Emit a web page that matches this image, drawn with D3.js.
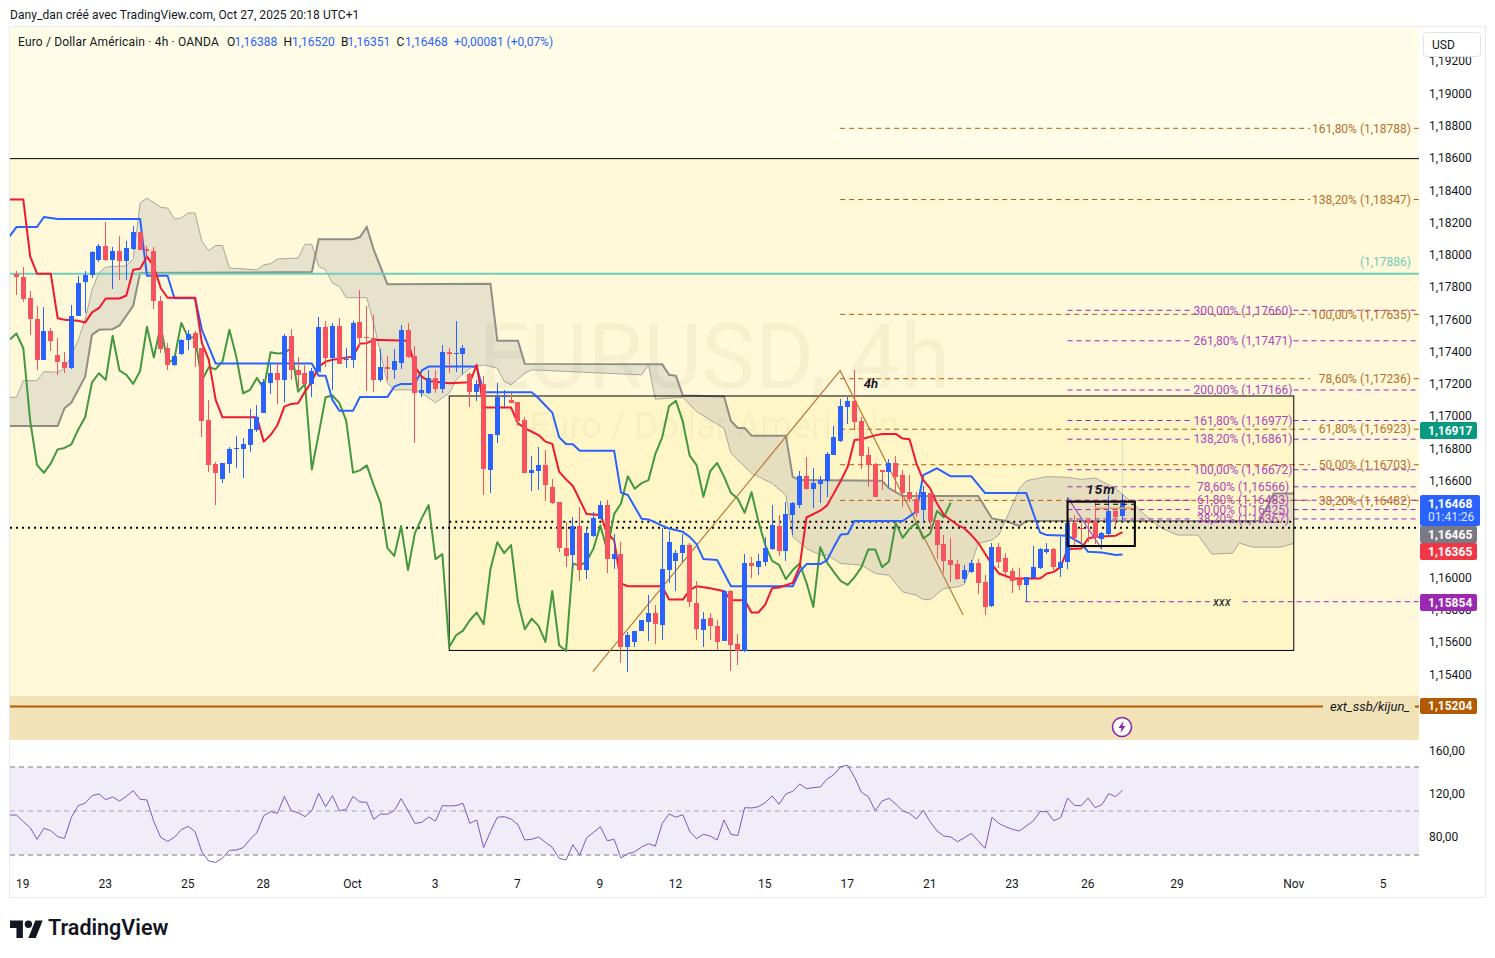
<!DOCTYPE html>
<html><head><meta charset="utf-8">
<script src="https://d3js.org/d3.v7.min.js"></script>
<style>html,body{margin:0;padding:0;background:#fff}svg{display:block}text{font-family:Roboto,sans-serif}</style>
</head><body><svg id="c" width="1495" height="958"></svg>
<script>
const firstBar=-1;
const opens=[1.17887,1.17866,1.17735,1.17605,1.17355,1.17531,1.17384,1.17342,1.17301,1.17622,1.17833,1.17880,1.17973,1.18060,1.17969,1.18029,1.17963,1.18042,1.18143,1.18042,1.18029,1.17719,1.17427,1.17324,1.17392,1.17473,1.17520,1.17425,1.16978,1.16707,1.16612,1.16709,1.16803,1.16803,1.16827,1.16918,1.17026,1.17212,1.17270,1.17231,1.17502,1.17287,1.17270,1.17206,1.17280,1.17558,1.17367,1.17562,1.17355,1.17355,1.17586,1.17495,1.17489,1.17225,1.17307,1.17293,1.17336,1.17539,1.17375,1.17146,1.17146,1.17239,1.17175,1.17400,1.17392,1.17392,1.17266,1.17156,1.17204,1.16670,1.16890,1.17121,1.17103,1.17092,1.16978,1.16654,1.16666,1.16699,1.16565,1.16470,1.16186,1.16143,1.16323,1.16050,1.16261,1.16364,1.16453,1.16118,1.16149,1.15574,1.15605,1.15673,1.15729,1.15787,1.15708,1.16052,1.16107,1.16155,1.16205,1.15849,1.15681,1.15754,1.15702,1.15611,1.15919,1.15590,1.15549,1.16093,1.16070,1.16101,1.16180,1.16323,1.16170,1.16393,1.16455,1.16631,1.16554,1.16583,1.16604,1.16765,1.16852,1.17063,1.17101,1.16972,1.16761,1.16705,1.16668,1.16660,1.16712,1.16637,1.16534,1.16488,1.16422,1.16525,1.16360,1.16211,1.16112,1.16087,1.15994,1.16037,1.16091,1.15975,1.15826,1.16192,1.16124,1.16045,1.15992,1.15958,1.16000,1.16062,1.16163,1.16178,1.16066,1.16101,1.16341,1.16312,1.16360,1.16347,1.16244,1.16273,1.16416,1.16388];
const highs=[1.17901,1.17928,1.17777,1.17688,1.17680,1.17549,1.17487,1.17404,1.17692,1.17874,1.17901,1.18029,1.18071,1.18205,1.18052,1.18122,1.18091,1.18180,1.18143,1.18056,1.18050,1.17750,1.17460,1.17384,1.17481,1.17539,1.17529,1.17425,1.17105,1.16722,1.16715,1.16815,1.16881,1.16867,1.17047,1.17073,1.17233,1.17328,1.17332,1.17514,1.17543,1.17373,1.17322,1.17301,1.17618,1.17591,1.17584,1.17611,1.17425,1.17591,1.17787,1.17688,1.17632,1.17419,1.17378,1.17419,1.17568,1.17580,1.17440,1.17245,1.17287,1.17291,1.17444,1.17425,1.17595,1.17446,1.17280,1.17229,1.17250,1.16894,1.17208,1.17167,1.17150,1.17092,1.16997,1.16757,1.16811,1.16794,1.16612,1.16470,1.16349,1.16376,1.16443,1.16314,1.16407,1.16480,1.16484,1.16273,1.16225,1.15667,1.15675,1.15739,1.15894,1.15832,1.16308,1.16294,1.16174,1.16273,1.16215,1.15981,1.15791,1.15781,1.15743,1.15925,1.15925,1.15652,1.16149,1.16132,1.16147,1.16256,1.16453,1.16391,1.16474,1.16474,1.16666,1.16749,1.16681,1.16633,1.16784,1.16943,1.17109,1.17125,1.17287,1.16997,1.16811,1.16712,1.16670,1.16738,1.16757,1.16670,1.16639,1.16536,1.16571,1.16530,1.16360,1.16267,1.16246,1.16112,1.16081,1.16112,1.16116,1.16018,1.16219,1.16219,1.16153,1.16060,1.16060,1.16008,1.16198,1.16184,1.16219,1.16184,1.16256,1.16501,1.16391,1.16339,1.16364,1.16480,1.16287,1.16515,1.16426,1.16520];
const lows=[1.17756,1.17709,1.17508,1.17291,1.17353,1.17409,1.17260,1.17270,1.17295,1.17622,1.17642,1.17860,1.17957,1.17967,1.17791,1.17845,1.17845,1.18036,1.18031,1.17973,1.17667,1.17398,1.17287,1.17315,1.17384,1.17411,1.17307,1.16877,1.16660,1.16453,1.16587,1.16649,1.16680,1.16618,1.16784,1.16908,1.17022,1.17142,1.17080,1.17094,1.17229,1.17177,1.17198,1.17125,1.17280,1.17311,1.17167,1.17328,1.17301,1.17301,1.17435,1.17162,1.17156,1.17218,1.17229,1.17233,1.17297,1.17363,1.16836,1.17125,1.17142,1.17146,1.17146,1.17274,1.17280,1.17266,1.17063,1.17101,1.16515,1.16530,1.16840,1.17063,1.17084,1.16945,1.16654,1.16542,1.16546,1.16480,1.16459,1.16163,1.16070,1.16066,1.15983,1.15992,1.16256,1.16364,1.16033,1.16054,1.15474,1.15418,1.15574,1.15673,1.15611,1.15594,1.15615,1.15971,1.15921,1.16101,1.15822,1.15615,1.15574,1.15619,1.15553,1.15611,1.15425,1.15460,1.15543,1.16004,1.16018,1.16074,1.16174,1.16136,1.16107,1.16267,1.16432,1.16546,1.16432,1.16463,1.16505,1.16763,1.16845,1.16956,1.16919,1.16674,1.16567,1.16505,1.16546,1.16563,1.16530,1.16443,1.16474,1.16381,1.16350,1.16298,1.16116,1.16029,1.15977,1.15987,1.15971,1.16029,1.15901,1.15770,1.15822,1.16060,1.16018,1.15909,1.15925,1.15853,1.15998,1.16056,1.16149,1.16050,1.16008,1.16054,1.16194,1.16194,1.16225,1.16211,1.16184,1.16261,1.16318,1.16351];
const closes=[1.17864,1.17733,1.17605,1.17353,1.17531,1.17467,1.17342,1.17305,1.17626,1.17829,1.17880,1.18021,1.18060,1.17973,1.18029,1.17963,1.18046,1.18145,1.18036,1.18025,1.17715,1.17423,1.17324,1.17375,1.17477,1.17516,1.17425,1.16976,1.16701,1.16653,1.16711,1.16798,1.16807,1.16829,1.16922,1.16997,1.17214,1.17270,1.17229,1.17502,1.17287,1.17260,1.17204,1.17284,1.17558,1.17367,1.17564,1.17330,1.17361,1.17582,1.17491,1.17491,1.17225,1.17307,1.17295,1.17344,1.17539,1.17373,1.17146,1.17167,1.17241,1.17175,1.17400,1.17392,1.17396,1.17425,1.17156,1.17204,1.16674,1.16894,1.17121,1.17132,1.17086,1.16976,1.16654,1.16668,1.16699,1.16577,1.16467,1.16186,1.16138,1.16323,1.16050,1.16279,1.16372,1.16453,1.16118,1.16149,1.15574,1.15646,1.15675,1.15739,1.15787,1.15714,1.16056,1.16223,1.16155,1.16205,1.15853,1.15683,1.15749,1.15704,1.15605,1.15921,1.15584,1.15549,1.16091,1.16076,1.16105,1.16184,1.16327,1.16170,1.16397,1.16463,1.16631,1.16554,1.16589,1.16608,1.16770,1.16873,1.17067,1.17099,1.16970,1.16759,1.16701,1.16505,1.16664,1.16714,1.16629,1.16529,1.16492,1.16405,1.16532,1.16352,1.16205,1.16107,1.16083,1.15994,1.16050,1.16091,1.15971,1.15822,1.16192,1.16097,1.16037,1.15981,1.15958,1.16006,1.16068,1.16178,1.16178,1.16068,1.16103,1.16341,1.16250,1.16306,1.16343,1.16246,1.16277,1.16416,1.16378,1.16468];

const tenkanBars=[-2,0,1,2,4,5,6,8,9,10,11,12,14,15,16,17,18,19,20,21,25,26,27,28,29,34,35,36,37,38,39,40,41,42,43,44,45,48,49,50,51,56,57,58,59,62,65,66,67,71,72,73,75,76,77,78,79,80,82,84,85,86,87,88,93,94,96,97,98,100,102,103,105,106,107,108,109,110,112,113,114,116,117,119,120,121,122,124,125,127,128,129,130,131,132,133,134,136,137,138,139,141,142,144,148,149,150,151,152,154,155,156,159,160];
const tenkanPrices=[1.18346,1.18346,1.17994,1.17887,1.17887,1.17611,1.17601,1.17595,1.17584,1.17647,1.17673,1.17733,1.17733,1.17752,1.17911,1.17918,1.17994,1.17932,1.17798,1.17738,1.17738,1.17456,1.17353,1.17105,1.16997,1.16997,1.16846,1.16887,1.16949,1.17063,1.17080,1.17084,1.17156,1.17218,1.17311,1.17342,1.17353,1.17373,1.17454,1.17456,1.17477,1.17471,1.17311,1.17249,1.17222,1.17208,1.17214,1.17322,1.17057,1.17057,1.16960,1.16929,1.16887,1.16846,1.16832,1.16660,1.16612,1.16571,1.16397,1.16391,1.16277,1.16236,1.15967,1.15950,1.15950,1.15867,1.15867,1.15925,1.15950,1.15938,1.15919,1.15863,1.15863,1.15787,1.15787,1.15836,1.15938,1.15942,1.15971,1.16070,1.16376,1.16418,1.16451,1.16604,1.16691,1.16856,1.16861,1.16885,1.16894,1.16894,1.16865,1.16861,1.16712,1.16608,1.16556,1.16463,1.16391,1.16329,1.16308,1.16267,1.16219,1.16085,1.16029,1.15998,1.15998,1.16029,1.16039,1.16070,1.16180,1.16184,1.16246,1.16256,1.16263,1.16285];
const kijunBars=[-2,-1,2,3,5,17,18,21,22,25,26,28,42,43,44,45,46,48,49,53,54,55,57,58,59,66,67,74,75,76,77,78,79,80,81,86,87,88,90,91,93,94,96,97,98,99,101,103,112,113,114,116,117,118,119,120,121,128,130,131,133,135,138,140,146,148,149,152,154,155,157,159,160];
const kijunPrices=[1.18118,1.18176,1.18176,1.18238,1.18226,1.18226,1.17874,1.17874,1.17735,1.17735,1.17539,1.17330,1.17330,1.17255,1.17255,1.17105,1.17038,1.17038,1.17123,1.17123,1.17187,1.17204,1.17204,1.17287,1.17311,1.17312,1.17152,1.17152,1.17115,1.17070,1.17026,1.16873,1.16832,1.16830,1.16790,1.16790,1.16530,1.16515,1.16368,1.16364,1.16325,1.16308,1.16287,1.16256,1.16211,1.16118,1.16112,1.15950,1.15950,1.16039,1.16087,1.16087,1.16112,1.16194,1.16271,1.16273,1.16354,1.16354,1.16412,1.16639,1.16681,1.16631,1.16631,1.16527,1.16527,1.16283,1.16267,1.16263,1.16215,1.16163,1.16159,1.16143,1.16147];
const spanABars=[-2,-1,0,2,3,5,6,7,8,9,10,11,12,15,16,17,18,20,21,22,23,24,25,26,27,28,29,30,34,35,36,37,40,41,42,43,44,45,46,47,50,51,52,53,54,57,58,60,62,63,65,67,69,70,71,73,74,90,91,92,96,98,102,103,106,109,111,112,114,116,117,119,122,124,126,128,130,131,132,134,136,137,139,141,142,143,145,146,149,152,154,156,159,161,163,165,166,168,171,173,176,177,179,183,185];
const spanAPrices=[1.17121,1.17121,1.17224,1.17224,1.17280,1.17276,1.17301,1.17380,1.17477,1.17601,1.17787,1.17891,1.17928,1.17936,1.17978,1.18325,1.18356,1.18298,1.18294,1.18226,1.18232,1.18263,1.18263,1.18087,1.18031,1.18062,1.18062,1.17922,1.17911,1.17942,1.17949,1.17978,1.17984,1.18069,1.18069,1.17932,1.17911,1.17829,1.17808,1.17738,1.17738,1.17580,1.17394,1.17208,1.17167,1.17167,1.17146,1.17088,1.17146,1.17229,1.17301,1.17322,1.17301,1.17219,1.17198,1.17270,1.17291,1.17260,1.17322,1.17109,1.17121,1.17032,1.16929,1.16774,1.16650,1.16587,1.16515,1.16256,1.16184,1.16143,1.16143,1.16091,1.16081,1.16029,1.16018,1.15915,1.15894,1.15867,1.15867,1.15936,1.15946,1.15963,1.16215,1.16236,1.16267,1.16360,1.16556,1.16604,1.16629,1.16625,1.16612,1.16621,1.16556,1.16484,1.16403,1.16329,1.16304,1.16267,1.16267,1.16149,1.16155,1.16217,1.16192,1.16192,1.16217];
const spanBBars=[-2,5,6,7,9,10,11,13,14,16,17,42,43,48,49,50,51,53,68,69,72,73,93,94,95,96,102,103,104,105,106,111,112,113,125,126,128,139,141,143,145,146,180,182,185];
const spanBPrices=[1.16943,1.16943,1.17053,1.17088,1.17249,1.17508,1.17539,1.17543,1.17566,1.17688,1.17891,1.17897,1.18100,1.18100,1.18114,1.18176,1.18036,1.17822,1.17825,1.17471,1.17471,1.17328,1.17325,1.17260,1.17254,1.17132,1.17126,1.16974,1.16931,1.16931,1.16883,1.16883,1.16628,1.16608,1.16604,1.16558,1.16509,1.16509,1.16370,1.16354,1.16323,1.16354,1.16354,1.16525,1.16525];
const chikouFirstBar=-2;
const chikou=[1.17477,1.17516,1.17425,1.16976,1.16701,1.16653,1.16711,1.16798,1.16807,1.16829,1.16922,1.16997,1.17214,1.17270,1.17229,1.17502,1.17287,1.17260,1.17204,1.17284,1.17558,1.17367,1.17564,1.17330,1.17361,1.17582,1.17491,1.17491,1.17225,1.17307,1.17295,1.17344,1.17539,1.17373,1.17146,1.17167,1.17241,1.17175,1.17400,1.17392,1.17396,1.17425,1.17156,1.17204,1.16674,1.16894,1.17121,1.17132,1.17086,1.16976,1.16654,1.16668,1.16699,1.16577,1.16467,1.16186,1.16138,1.16323,1.16050,1.16279,1.16372,1.16453,1.16118,1.16149,1.15574,1.15646,1.15675,1.15739,1.15787,1.15714,1.16056,1.16223,1.16155,1.16205,1.15853,1.15683,1.15749,1.15704,1.15605,1.15921,1.15584,1.15549,1.16091,1.16076,1.16105,1.16184,1.16327,1.16170,1.16397,1.16463,1.16631,1.16554,1.16589,1.16608,1.16770,1.16873,1.17067,1.17099,1.16970,1.16759,1.16701,1.16505,1.16664,1.16714,1.16629,1.16529,1.16492,1.16405,1.16532,1.16352,1.16205,1.16107,1.16083,1.15994,1.16050,1.16091,1.15971,1.15822,1.16192,1.16097,1.16037,1.15981,1.15958,1.16006,1.16068,1.16178,1.16178,1.16068,1.16103,1.16341,1.16250,1.16306,1.16343,1.16246,1.16277,1.16416,1.16378,1.16468];
const oscFirstBar=-2;
const oscillator=[99.4,99.4,93.2,87.6,76.7,87.0,84.8,79.2,77.6,97.3,108.2,110.4,117.5,119.1,113.8,116.3,112.5,116.9,122.2,114.1,113.5,93.2,78.6,74.8,78.6,85.7,88.8,83.9,64.8,56.4,55.2,59.2,66.4,66.7,68.9,76.7,82.9,98.8,102.6,101,116.9,103.5,101.6,97.9,103.5,119.7,107.2,117.5,103.5,104.7,116.9,111.6,111.3,95.4,100.4,100.1,103.5,114.7,103.5,91.6,92.6,97.6,93.8,108.2,107.9,108.2,110.4,91.6,94.8,68.9,83.9,97.3,97.9,95.7,90.4,76.1,76.7,78.9,73.9,69.2,58.9,57.4,71.7,62,78.2,83.2,88.5,75.4,76.7,59.2,63.3,65.1,69.5,72.6,70.4,91.6,100.4,97.3,99.8,84.2,77.3,81.4,79.8,76.1,94.8,81.4,80.1,106.3,106,107.2,111,117.2,109.4,119.1,121.6,128.4,124.1,125,125.6,133.1,137.2,144.7,145.9,134.7,120.6,116.6,103.5,112.5,115,109.7,103.2,101,95.7,103.8,93.2,84.5,79.8,78.9,74.5,78.2,82.3,75.1,68.3,97.3,91.6,88.5,86,84.5,89.2,93.8,102.6,102.6,94.1,96.9,115.3,108.5,108.2,115.3,106.3,109.1,119.4,116.6,122.5];
const oscLevels=[144.3,103.2,62];
const oscTicks=[160,120,80];

const priceTicks=[1.192,1.19,1.188,1.186,1.184,1.182,1.18,1.178,1.176,1.174,1.172,1.17,1.168,1.166,1.16,1.158,1.156,1.154];
const timeBars=[0,12,24,35,48,60,72,84,95,108,120,132,144,155,168,185,198];
const timeLabels=["19","23","25","28","Oct","3","7","9","12","15","17","21","23","26","29","Nov","5"];

const fib4hRatios=["161,80%","138,20%","100,00%","78,60%","61,80%","50,00%","38,20%"];
const fib4hPrices=[1.18788,1.18347,1.17635,1.17236,1.16923,1.16703,1.16482];
const fib15Ratios=["300,00%","261,80%","200,00%","161,80%","138,20%","100,00%","78,60%","61,80%","50,00%","38,20%"];
const fib15Prices=[1.1766,1.17471,1.17166,1.16977,1.16861,1.16672,1.16566,1.16483,1.16425,1.16367];
const trend4hBars=[82.9,118.9,136.8], trend4hPrices=[1.1542,1.17286,1.15772];
const trend15Bars=[152,157], trend15Prices=[1.16501,1.16179];
const legendValues=["1,16388","1,16520","1,16351","1,16468","+0,00081 (+0,07%)"];

const svg=d3.select("#c");
const L=10,R=1419,T=27,PB=740,OB=868,AB=897,AR=1485;
const x=d3.scaleLinear().domain([0,160]).range([23.3,1122.5]);
const y=d3.scaleLinear().domain([1.19,1.154]).range([94.1,674.96]);
const yo=d3.scaleLinear().domain([160,80]).range([750.2,835.8]);
const fmt=p=>p.toFixed(5).replace(".",",");
const defs=svg.append("defs");
defs.append("clipPath").attr("id","pl").append("rect").attr("x",L).attr("y",T).attr("width",R-L).attr("height",PB-T);
defs.append("clipPath").attr("id","ol").append("rect").attr("x",L).attr("y",PB).attr("width",R-L).attr("height",OB-PB);

// frame
svg.append("rect").attr("x",L-.5).attr("y",T-.5).attr("width",AR-L+1).attr("height",AB-T+1).attr("fill","#fff").attr("stroke","#e8eaf0");

// pane backgrounds
const bg=svg.append("g").attr("clip-path","url(#pl)");
bg.append("rect").attr("x",L).attr("y",T).attr("width",R-L).attr("height",y(1.186)-T).attr("fill","#fffde7");
bg.append("rect").attr("x",L).attr("y",y(1.186)).attr("width",R-L).attr("height",y(1.1527)-y(1.186)).attr("fill","#fff9d9");
bg.append("rect").attr("x",L).attr("y",y(1.1527)).attr("width",R-L).attr("height",PB-y(1.1527)).attr("fill","#f2e2b8");
bg.append("rect").attr("x",x(62)).attr("y",y(1.17129)).attr("width",x(184.93)-x(62)).attr("height",y(1.15552)-y(1.17129)).attr("fill","#fff6c8");

// watermark
const wm=svg.append("g").attr("text-anchor","middle").attr("fill","#8a8660").attr("fill-opacity",.075);
wm.append("text").attr("x",714).attr("y",388).attr("font-size",90).text("EURUSD, 4h");
wm.append("text").attr("x",714).attr("y",438).attr("font-size",36).text("Euro / Dollar Américain");

const plot=svg.append("g").attr("clip-path","url(#pl)");
const zip=(b,p)=>b.map((v,i)=>[v,p[i]]);
const line=d3.line().x(d=>x(d[0])).y(d=>y(d[1]));

// cloud
const A=zip(spanABars,spanAPrices),B=zip(spanBBars,spanBPrices);
plot.append("path").attr("d",line(A.concat(B.slice().reverse()))+"Z").attr("fill","#82879d").attr("fill-opacity",.2);
plot.append("path").attr("d",line(A)).attr("fill","none").attr("stroke","#a8a79c").attr("stroke-width",1);
plot.append("path").attr("d",line(B)).attr("fill","none").attr("stroke","#8f8e85").attr("stroke-width",2);

// reference lines
plot.append("line").attr("x1",L).attr("x2",R).attr("y1",y(1.186)).attr("y2",y(1.186)).attr("stroke","#000").attr("stroke-width",1);
plot.append("line").attr("x1",L).attr("x2",R).attr("y1",y(1.17886)).attr("y2",y(1.17886)).attr("stroke","#6ecfbc").attr("stroke-width",2);
plot.append("line").attr("x1",L).attr("x2",1323).attr("y1",y(1.15204)).attr("y2",y(1.15204)).attr("stroke","#b35900").attr("stroke-width",2);
plot.append("line").attr("x1",1415).attr("x2",R).attr("y1",y(1.15204)).attr("y2",y(1.15204)).attr("stroke","#b35900").attr("stroke-width",2);

// fib levels
const gap=(g,p,from,gl,gr,col)=>{[[from,gl],[gr,203.2]].forEach(s=>g.append("line").attr("x1",x(s[0])).attr("x2",x(s[1])).attr("y1",y(p)).attr("y2",y(p)).attr("stroke",col).attr("stroke-width",1).attr("stroke-dasharray","5,4"));};
fib4hPrices.forEach(p=>gap(plot,p,118.9,187.3,202.4,"#b35900"));
fib15Prices.forEach(p=>gap(plot,p,152,170.1,184.9,"#a020c0"));
gap(plot,1.15854,145.8,173.5,177.5,"#a020c0");

// big rect
plot.append("rect").attr("x",x(62)).attr("y",y(1.17129)).attr("width",x(184.93)-x(62)).attr("height",y(1.15552)-y(1.17129)).attr("fill","none").attr("stroke","#000");

// dotted
plot.append("line").attr("x1",L).attr("x2",R).attr("y1",y(1.16313)).attr("y2",y(1.16313)).attr("stroke","#000").attr("stroke-width",2).attr("stroke-dasharray","2,4");
plot.append("line").attr("x1",x(62)).attr("x2",x(185)).attr("y1",y(1.1635)).attr("y2",y(1.1635)).attr("stroke","#000").attr("stroke-width",2).attr("stroke-dasharray","2,4");

// trend lines
plot.append("path").attr("d",line(zip(trend4hBars,trend4hPrices))).attr("fill","none").attr("stroke","#b87a35").attr("stroke-width",1.2);

// indicator lines
plot.append("path").attr("d",line(chikou.map((v,i)=>[i+chikouFirstBar,v]))).attr("fill","none").attr("stroke","#43983f").attr("stroke-width",2).attr("stroke-linejoin","round");
plot.append("path").attr("d",line(zip(kijunBars,kijunPrices))).attr("fill","none").attr("stroke","#2962ff").attr("stroke-width",2).attr("stroke-linejoin","round");
plot.append("path").attr("d",line(zip(tenkanBars,tenkanPrices))).attr("fill","none").attr("stroke","#f0182f").attr("stroke-width",2).attr("stroke-linejoin","round");

// faint vertical
plot.append("line").attr("x1",x(160)).attr("x2",x(160)).attr("y1",y(1.16857)).attr("y2",y(1.16484)).attr("stroke","#c8e6c9");

// candles
const UP="#2962ff",DN="#f7525f";
const bars=opens.map((o,i)=>({b:i+firstBar,o,h:highs[i],l:lows[i],c:closes[i]}));
const cx=b=>Math.round(x(b)-.5)+.5;
const cg=plot.selectAll("g.k").data(bars).join("g").attr("class","k").attr("shape-rendering","crispEdges");
cg.append("line").attr("x1",d=>cx(d.b)).attr("x2",d=>cx(d.b)).attr("y1",d=>y(d.h)).attr("y2",d=>y(d.l)).attr("stroke",d=>d.c>=d.o?UP:DN).attr("stroke-width",1);
cg.append("rect").attr("x",d=>cx(d.b)-2.5).attr("width",5).attr("y",d=>y(Math.max(d.o,d.c))).attr("height",d=>Math.max(1.5,Math.abs(y(d.o)-y(d.c)))).attr("fill",d=>d.c>=d.o?UP:DN);

// small 15m tool
plot.append("path").attr("d",line(zip(trend15Bars,trend15Prices))).attr("fill","none").attr("stroke","#9c4fc0").attr("stroke-width",1.2);
plot.append("line").attr("x1",x(156)).attr("x2",x(161.8)).attr("y1",y(1.16433)).attr("y2",y(1.16433)).attr("stroke","#e6a23c").attr("stroke-width",1.5);
plot.append("line").attr("x1",x(156)).attr("x2",x(161.8)).attr("y1",y(1.16458)).attr("y2",y(1.16458)).attr("stroke","#000").attr("stroke-width",1).attr("stroke-dasharray","5,4");
plot.append("rect").attr("x",x(152)).attr("y",y(1.16474)).attr("width",x(161.8)-x(152)).attr("height",y(1.16199)-y(1.16474)).attr("fill","none").attr("stroke","#000").attr("stroke-width",2);

// fib labels
const fl=svg.append("g").attr("font-size",12);
fib4hPrices.forEach((p,i)=>fl.append("text").attr("x",1411).attr("y",y(p)).attr("dy","0.35em").attr("text-anchor","end").attr("fill","#b5702a").text(fib4hRatios[i]+" ("+fmt(p)+")"));
fib15Prices.forEach((p,i)=>fl.append("text").attr("x",1243).attr("y",y(p)).attr("dy","0.35em").attr("text-anchor","middle").attr("fill","#ab47bc").text(fib15Ratios[i]+" ("+fmt(p)+")"));
svg.append("text").attr("x",1411).attr("y",y(1.17886)-12).attr("dy","0.35em").attr("text-anchor","end").attr("font-size",12).attr("fill","#72c9b8").text("("+fmt(1.17886)+")");

// drawing labels
const ital=(xx,yy,t,fs,w)=>svg.append("text").attr("x",xx).attr("y",yy).attr("dy","0.35em").attr("text-anchor","middle").attr("font-size",fs).attr("font-style","italic").attr("font-weight",w).attr("fill","#131722").text(t);
ital(871,383,"4h",13,700);
ital(1101,489,"15m",13.5,700).attr("letter-spacing",1);
ital(1222,602,"xxx",12,400);
ital(1370,706,"ext_ssb/kijun_",13,400);

// bolt icon
const bolt=svg.append("g").attr("transform","translate(1122,727)");
bolt.append("circle").attr("r",9.5).attr("fill","#fff").attr("stroke","#8e24aa").attr("stroke-width",1.6);
bolt.append("path").attr("d","M1.5,-6 L-3.5,1 L-0.5,1 L-1.5,6 L3.5,-1 L0.5,-1 Z").attr("fill","#8e24aa");

// oscillator pane
const op=svg.append("g").attr("clip-path","url(#ol)");
op.append("rect").attr("x",L).attr("y",yo(oscLevels[0])).attr("width",R-L).attr("height",yo(oscLevels[2])-yo(oscLevels[0])).attr("fill","#f0ecf8");
oscLevels.forEach((v,i)=>op.append("line").attr("x1",L).attr("x2",R).attr("y1",yo(v)).attr("y2",yo(v)).attr("stroke",i==1?"#aaa6b4":"#787b86").attr("stroke-dasharray","5,4"));
op.append("path").attr("d",d3.line().x((d,i)=>x(i+oscFirstBar)).y(d=>yo(d))(oscillator)).attr("fill","none").attr("stroke","#7e57c2").attr("stroke-width",1);

// axes
const axP=svg.append("g").attr("transform",`translate(${R},-0.7)`).call(d3.axisRight(y).tickValues(priceTicks).tickFormat(fmt).tickSize(0).tickPadding(10));
const axO=svg.append("g").attr("transform",`translate(${R},0.5)`).call(d3.axisRight(yo).tickValues(oscTicks).tickFormat(v=>v.toFixed(2).replace(".",",")).tickSize(0).tickPadding(10));
const axT=svg.append("g").attr("transform",`translate(-1,${OB+6})`).call(d3.axisBottom(x).tickValues(timeBars).tickFormat((d,i)=>timeLabels[i]).tickSize(0).tickPadding(5));
[axP,axO,axT].forEach(a=>{a.select(".domain").remove();a.selectAll("text").attr("font-size",12).attr("font-family","Roboto,sans-serif").attr("fill","#131722");});

// USD
svg.append("rect").attr("x",1423.5).attr("y",32.5).attr("width",57).attr("height",24).attr("rx",3).attr("fill","#fff").attr("stroke","#e0e3eb");
svg.append("text").attr("x",1432).attr("y",48.5).attr("font-size",12).attr("fill","#131722").text("USD");

// price tags
const tags=[[1.16917,"#089981",422,17,57,"1,16917"],[1.16465,"#787b86",526,17,57,"1,16465"],[1.16365,"#f23645",543,17,57,"1,16365"],[1.15854,"#9c27b0",594,17,57,"1,15854"],[1.15204,"#b35900",698,16,57,"1,15204"]];
tags.forEach(t=>{svg.append("rect").attr("x",1420).attr("y",t[2]).attr("width",t[4]).attr("height",t[3]).attr("rx",2).attr("fill",t[1]);
svg.append("text").attr("x",1428).attr("y",t[2]+t[3]/2).attr("dy","0.35em").attr("font-size",12).attr("font-weight",700).attr("fill","#fff").text(t[5]);});
svg.append("rect").attr("x",1420).attr("y",495).attr("width",60).attr("height",31).attr("rx",2).attr("fill","#2962ff");
svg.append("text").attr("x",1428).attr("y",503.5).attr("dy","0.35em").attr("font-size",12).attr("font-weight",700).attr("fill","#fff").text("1,16468");
svg.append("text").attr("x",1428).attr("y",517).attr("dy","0.35em").attr("font-size",12).attr("fill","#dfe7ff").text("01:41:26");

// header
svg.append("text").attr("x",10).attr("y",19).attr("font-size",12).attr("letter-spacing",".07").attr("fill","#131722").text("Dany_dan créé avec TradingView.com, Oct 27, 2025 20:18 UTC+1");
const lg=svg.append("g").attr("font-size",12);
lg.append("text").attr("x",18).attr("y",46).attr("letter-spacing",".17").attr("fill","#131722").text("Euro / Dollar Américain · 4h · OANDA");
[["O",227,234.5,0],["H",283.5,292,1],["B",341,347.5,2],["C",396.5,405,3]].forEach(r=>{
 lg.append("text").attr("x",r[1]).attr("y",46).attr("fill","#131722").text(r[0]);
 lg.append("text").attr("x",r[2]).attr("y",46).attr("fill","#2962ff").text(legendValues[r[3]]);
});
lg.append("text").attr("x",454).attr("y",46).attr("fill","#2962ff").text(legendValues[4]);

// logo
const logo=svg.append("g").attr("transform","translate(10,915) scale(.92)").attr("fill","#131722");
logo.append("path").attr("d","M14 25H7V14H0V6h14v19Zm14 0h-8l7.5-19h8L28 25Z");
logo.append("circle").attr("cx",20).attr("cy",10).attr("r",4);
svg.append("text").attr("x",48).attr("y",935).attr("font-family","Inter,sans-serif").attr("font-size",21.5).attr("font-weight",600).attr("fill","#131722").text("TradingView");
</script></body></html>
